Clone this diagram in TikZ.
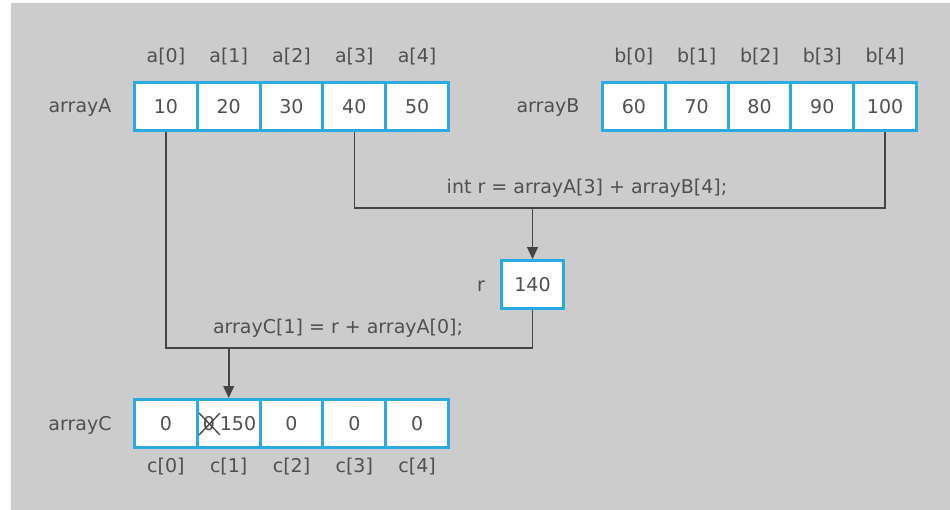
\documentclass[tikz,border=0pt]{standalone}
\usepackage{fontspec}
\setmainfont{DejaVu Sans}
\usepackage{tikz}
\usetikzlibrary{arrows.meta}

\definecolor{panelgrey}{HTML}{CCCCCC}
\definecolor{cellblue}{HTML}{29ABE2}
\definecolor{inkgrey}{HTML}{505050}
\definecolor{wiregrey}{HTML}{444444}

\tikzset{
  cell/.style={draw=cellblue,line width=2.25pt,fill=white,minimum width=47.1pt,minimum height=36pt,inner sep=0pt,text=inkgrey},
  idx/.style={text=inkgrey,inner sep=1pt},
  wire/.style={draw=wiregrey,line width=1.2pt},
  feed/.style={wire,-{Triangle[length=9pt,width=8pt]}}
}

\begin{document}
\begin{tikzpicture}[x=0.75pt,y=-0.75pt,font=\fontsize{14.25}{17}\selectfont]
\useasboundingbox (0,0) rectangle (950,510);
\fill[panelgrey] (11,3) rectangle (950,510);

% arrayA
\node[idx] (nameA) at (80,108) {arrayA};
\node[cell] (a0) at (165.9,106.5) {10};
\node[cell] (a1) at (228.7,106.5) {20};
\node[cell] (a2) at (291.5,106.5) {30};
\node[cell] (a3) at (354.3,106.5) {40};
\node[cell] (a4) at (417.1,106.5) {50};
\node[idx] (la0) at (165.9,57) {a[0]};
\node[idx] (la1) at (228.7,57) {a[1]};
\node[idx] (la2) at (291.5,57) {a[2]};
\node[idx] (la3) at (354.3,57) {a[3]};
\node[idx] (la4) at (417.1,57) {a[4]};

% arrayB
\node[idx] (nameB) at (548,108) {arrayB};
\node[cell] (b0) at (633.9,106.5) {60};
\node[cell] (b1) at (696.7,106.5) {70};
\node[cell] (b2) at (759.5,106.5) {80};
\node[cell] (b3) at (822.3,106.5) {90};
\node[cell] (b4) at (885.1,106.5) {100};
\node[idx] (lb0) at (633.9,57) {b[0]};
\node[idx] (lb1) at (696.7,57) {b[1]};
\node[idx] (lb2) at (759.5,57) {b[2]};
\node[idx] (lb3) at (822.3,57) {b[3]};
\node[idx] (lb4) at (885.1,57) {b[4]};

% r
\node[idx] (nameR) at (481,286) {r};
\node[cell] (r) at (532.5,284.7) {140};

% arrayC
\node[idx] (nameC) at (80,425) {arrayC};
\node[cell] (c0) at (165.9,423.5) {0};
\node[cell] (c1) at (228.7,423.5) {};
\node[cell] (c2) at (291.5,423.5) {0};
\node[cell] (c3) at (354.3,423.5) {0};
\node[cell] (c4) at (417.1,423.5) {0};
\node[idx] (old) at (209,424) {0};
\node[idx] (new) at (238,424) {150};
\draw[wiregrey,line width=1pt] ([shift={(-10,-11)}]old.center) -- ([shift={(11,11)}]old.center);
\draw[wiregrey,line width=1pt] ([shift={(-10,11)}]old.center) -- ([shift={(11,-11)}]old.center);
\node[idx] (lc0) at (165.9,467) {c[0]};
\node[idx] (lc1) at (228.7,467) {c[1]};
\node[idx] (lc2) at (291.5,467) {c[2]};
\node[idx] (lc3) at (354.3,467) {c[3]};
\node[idx] (lc4) at (417.1,467) {c[4]};

% int r = ...
\draw[wire] (a3.south) -- (a3.south |- 0,208) -| (b4.south);
\draw[feed] (r.north |- 0,208) -- (r.north);
\node[idx] (sumR) at (587,188) {int r = arrayA[3] + arrayB[4];};

% arrayC[1] = ...
\draw[wire] (a0.south) -- (a0.south |- 0,348) -| (r.south);
\draw[feed] (c1.north |- 0,348) -- (c1.north);
\node[idx] (sumC) at (338,328) {arrayC[1] = r + arrayA[0];};
\end{tikzpicture}
\end{document}
